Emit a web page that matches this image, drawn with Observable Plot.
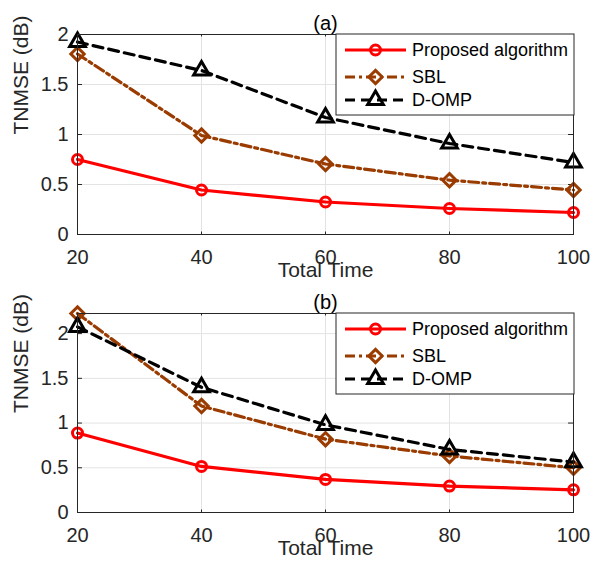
<!DOCTYPE html>
<html>
<head>
<meta charset="utf-8">
<script src="https://cdn.jsdelivr.net/npm/d3@7"></script>
<script src="https://cdn.jsdelivr.net/npm/@observablehq/plot@0.6"></script>
<style>
  html, body { margin: 0; padding: 0; background: white; }
  #chart svg { display: block; }
</style>
</head>
<body>
<div id="chart"></div>
<script>
const totalTime = [20, 40, 60, 80, 100];
const xTicks = [20, 40, 60, 80, 100];
const yTicks = [0, 0.5, 1, 1.5, 2];
const seriesNames = ["Proposed algorithm", "SBL", "D-OMP"];

// Panel (a)
const proposedA = [0.75, 0.445, 0.325, 0.26, 0.22];
const sblA      = [1.805, 0.99, 0.705, 0.543, 0.445];
const dompA     = [1.925, 1.64, 1.17, 0.91, 0.72];
// Panel (b)
const proposedB = [0.888, 0.515, 0.37, 0.295, 0.254];
const sblB      = [2.225, 1.19, 0.82, 0.632, 0.5];
const dompB     = [2.075, 1.40, 0.98, 0.705, 0.563];

const FONT = "'Liberation Sans', Arial, Helvetica, sans-serif";
const AXC = "#262626";
const RED = "#ff0000";
const BROWN = "#9a3b00";
const BLACK = "#000000";

const styles = [
  {stroke: RED, dash: null, symbol: "circle", r: 5},
  {stroke: BROWN, dash: "10,4,3,4", symbol: "diamond2", r: 6},
  {stroke: BLACK, dash: "10,6", symbol: "triangle2", r: 7.5}
];

function panel(title, yMax, seriesVals, H, mTop, mBottom) {
  const marks = [
    Plot.gridX(xTicks, {stroke: "#e3e3e3", strokeOpacity: 1, strokeWidth: 1}),
    Plot.gridY(yTicks, {stroke: "#e3e3e3", strokeOpacity: 1, strokeWidth: 1}),
    Plot.axisX({ticks: xTicks, tickSize: 0, tickPadding: 15, fontSize: 20, fill: AXC, tickFormat: d => String(d)}),
    Plot.axisY({ticks: yTicks, tickSize: 0, tickPadding: 9, fontSize: 20, fill: AXC, tickFormat: d => String(d)}),
    // inward ticks
    Plot.ruleX(xTicks, {x: d => d, y1: 0, y2: yMax * 0.0125, stroke: AXC}),
    Plot.ruleX(xTicks, {x: d => d, y1: yMax, y2: yMax * (1 - 0.0125), stroke: AXC}),
    Plot.ruleY(yTicks, {y: d => d, x1: 20, x2: 20 + 80 * 0.01, stroke: AXC}),
    Plot.ruleY(yTicks, {y: d => d, x1: 100, x2: 100 - 80 * 0.01, stroke: AXC})
  ];
  seriesVals.forEach((vals, k) => {
    const s = styles[k];
    const data = totalTime.map((t, i) => ({t, v: vals[i]}));
    marks.push(Plot.line(data, {x: "t", y: "v", stroke: s.stroke, strokeWidth: 3.2, strokeDasharray: s.dash, clip: false}));
    marks.push(Plot.dot(data, {x: "t", y: "v", symbol: s.symbol, r: s.r, stroke: s.stroke, strokeWidth: 3, fill: "none", clip: false}));
  });
  marks.push(Plot.frame({stroke: AXC, strokeWidth: 1}));
  marks.push(Plot.text([title], {frameAnchor: "top", dy: -19, fontSize: 20, fill: "#000", text: d => d}));
  marks.push(Plot.text(["TNMSE (dB)"], {frameAnchor: "left", dx: -56, rotate: -90, fontSize: 21, fill: AXC, text: d => d}));
  marks.push(Plot.text(["Total Time"], {frameAnchor: "bottom", dy: 42, fontSize: 21, fill: AXC, text: d => d}));

  const p = Plot.plot({
    width: 590, height: H,
    marginTop: mTop, marginBottom: mBottom, marginLeft: 77, marginRight: 17,
    style: {fontFamily: FONT, background: "white", overflow: "visible"},
    x: {domain: [20, 100], label: null, axis: null},
    y: {domain: [0, yMax], label: null, axis: null},
    marks
  });
  // legend
  const svg = d3.select(p);
  const right = 590 - 17 + 1, top = mTop;
  const w = 238, h = 81;
  const g = svg.append("g").attr("font-family", FONT).attr("text-anchor", "start");
  g.append("rect").attr("x", right - w).attr("y", top).attr("width", w).attr("height", h)
    .attr("fill", "white").attr("stroke", AXC).attr("stroke-width", 1);
  const rows = [16, 43, 66];
  const sym = {circle: d3.symbolCircle, diamond2: d3.symbolDiamond2, triangle2: d3.symbolTriangle2};
  seriesNames.forEach((name, k) => {
    const s = styles[k];
    const cy = top + rows[k];
    const x0 = right - w + 9, x1 = x0 + 61;
    g.append("line").attr("x1", x0).attr("x2", x1).attr("y1", cy).attr("y2", cy)
      .attr("stroke", s.stroke).attr("stroke-width", 3.2).attr("stroke-dasharray", s.dash);
    g.append("path").attr("d", d3.symbol(sym[s.symbol], Math.PI * s.r * s.r)())
      .attr("transform", `translate(${(x0 + x1) / 2},${cy})`)
      .attr("fill", "none").attr("stroke", s.stroke).attr("stroke-width", 3);
    g.append("text").attr("x", x1 + 6).attr("y", cy).attr("dy", "0.35em")
      .attr("font-size", 18).attr("fill", "#000").attr("text-anchor", "start").text(name);
  });
  return p;
}

const chart = document.getElementById("chart");
chart.appendChild(panel("(a)", 2, [proposedA, sblA, dompA], 280, 34, 46));
chart.appendChild(panel("(b)", 2.225, [proposedB, sblB, dompB], 285, 33, 53));
</script>
</body>
</html>
